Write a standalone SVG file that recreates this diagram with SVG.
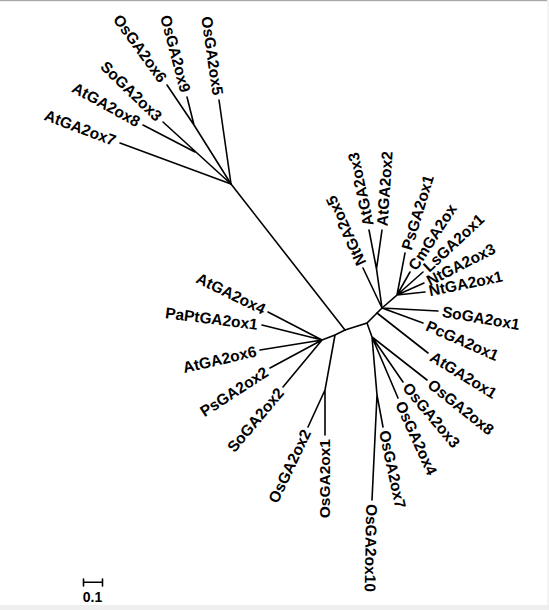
<svg xmlns="http://www.w3.org/2000/svg" width="549" height="610" viewBox="0 0 549 610">
<style>
.b{stroke:#000;stroke-width:1.6;fill:none;stroke-linecap:round}
text{font-family:"Liberation Sans",Arial,sans-serif;font-weight:bold;font-size:15.5px;fill:#000}
.s{text-anchor:start}
.e{text-anchor:end}
</style>
<rect width="549" height="610" fill="#fff"/>
<rect x="0" y="0" width="549" height="1.2" fill="#a8a8a8"/>
<rect x="0" y="605" width="549" height="5" fill="#efefef"/>
<rect x="547" y="0" width="2" height="605" fill="#f3f3f3"/>
<g id="connectors">
<path class="b" d="M345,330 L231,184"/>
<path class="b" d="M231,184 L219,100"/>
<path class="b" d="M231,184 L194,125 M194,125 L187,97 M194,125 L167,85"/>
<path class="b" d="M231,184 L163,122 M195,152 L143,125"/>
<path class="b" d="M231,184 L120,143"/>
<path class="b" d="M345,330 L335,335 L322,340 M322,340 L268,312 M322,340 L262,325 M322,340 L260,350 M322,340 L270,368 M322,340 L283,387"/>
<path class="b" d="M335,335 L325,390 L325,435 M325,390 L308,427"/>
<path class="b" d="M345,330 L367,323 L382,308"/>
<path class="b" d="M382,308 L363,268 M382,308 L376.5,269 L369,230 M376.5,269 L382,230"/>
<path class="b" d="M382,308 L397,295 L405,253 M397,295 L410,272 M397,295 L423,272 M397,295 L424,283 M397,295 L425,292"/>
<path class="b" d="M382,308 L438,311 M382,308 L423,323 M377,313 L428,353"/>
<path class="b" d="M367,323 L372,337 L427,380 M372,337 L403,382 M372,337 L398,398 M372,337 L377,395 L383,427 M377,395 L372,500"/>
<path class="b" d="M83.5,582.3 L102.5,582.3 M83.5,579 L83.5,586 M102.5,579 L102.5,586"/>
</g>
<g id="labels">
<g id="n-OsGA2ox5"><text class="e" dy="0.35em" transform="translate(218,95) rotate(81.8)">OsGA2ox5</text></g>
<g id="n-OsGA2ox9"><text class="e" dy="0.35em" transform="translate(185.8,92) rotate(75)">OsGA2ox9</text></g>
<g id="n-OsGA2ox6"><text class="e" dy="0.35em" transform="translate(163.5,80.5) rotate(54)">OsGA2ox6</text></g>
<g id="n-SoGA2ox3"><text class="e" dy="0.35em" transform="translate(159.6,118.3) rotate(44)">SoGA2ox3</text></g>
<g id="n-AtGA2ox8"><text class="e" dy="0.35em" transform="translate(139,122.7) rotate(29)">AtGA2ox8</text></g>
<g id="n-AtGA2ox7"><text class="e" dy="0.35em" transform="translate(115.3,141) rotate(20.7)">AtGA2ox7</text></g>
<g id="n-NtGA2ox5"><text class="s" dy="0.35em" transform="translate(361.6,264.7) rotate(-114.7)">NtGA2ox5</text></g>
<g id="n-AtGA2ox3"><text class="s" dy="0.35em" transform="translate(368.5,226) rotate(-102)">AtGA2ox3</text></g>
<g id="n-AtGA2ox2"><text class="s" dy="0.35em" transform="translate(382,226) rotate(-86)">AtGA2ox2</text></g>
<g id="n-PsGA2ox1"><text class="s" dy="0.35em" transform="translate(406.2,249.5) rotate(-73)">PsGA2ox1</text></g>
<g id="n-CmGA2ox"><text class="s" dy="0.35em" transform="translate(412,268.5) rotate(-57)">CmGA2ox</text></g>
<g id="n-LsGA2ox1"><text class="s" dy="0.35em" transform="translate(425.5,269) rotate(-43)">LsGA2ox1</text></g>
<g id="n-NtGA2ox3"><text class="s" dy="0.35em" transform="translate(427.5,281.5) rotate(-27)">NtGA2ox3</text></g>
<g id="n-NtGA2ox1"><text class="s" dy="0.35em" transform="translate(429,291) rotate(-11.6)">NtGA2ox1</text></g>
<g id="n-SoGA2ox1"><text class="s" dy="0.35em" transform="translate(442.3,311.4) rotate(9.7)">SoGA2ox1</text></g>
<g id="n-PcGA2ox1"><text class="s" dy="0.35em" transform="translate(427,325) rotate(23.8)">PcGA2ox1</text></g>
<g id="n-AtGA2ox1"><text class="s" dy="0.35em" transform="translate(431.7,355.4) rotate(31.6)">AtGA2ox1</text></g>
<g id="n-OsGA2ox8"><text class="s" dy="0.35em" transform="translate(429.8,382.5) rotate(38.3)">OsGA2ox8</text></g>
<g id="n-OsGA2ox3"><text class="s" dy="0.35em" transform="translate(405.9,384.8) rotate(50)">OsGA2ox3</text></g>
<g id="n-OsGA2ox4"><text class="s" dy="0.35em" transform="translate(400,402) rotate(65.6)">OsGA2ox4</text></g>
<g id="n-OsGA2ox7"><text class="s" dy="0.35em" transform="translate(384.2,430.6) rotate(77.8)">OsGA2ox7</text></g>
<g id="n-OsGA2ox10"><text class="s" dy="0.35em" transform="translate(371.6,504) rotate(91)">OsGA2ox10</text></g>
<g id="n-OsGA2ox1"><text class="e" dy="0.35em" transform="translate(325,439) rotate(-90)">OsGA2ox1</text></g>
<g id="n-OsGA2ox2"><text class="e" dy="0.35em" transform="translate(306.6,430.3) rotate(-64.6)">OsGA2ox2</text></g>
<g id="n-SoGA2ox2"><text class="e" dy="0.35em" transform="translate(280.7,389.8) rotate(-50)">SoGA2ox2</text></g>
<g id="n-PsGA2ox2"><text class="e" dy="0.35em" transform="translate(266.6,370.5) rotate(-33)">PsGA2ox2</text></g>
<g id="n-AtGA2ox6"><text class="e" dy="0.35em" transform="translate(256.1,350.9) rotate(-13)">AtGA2ox6</text></g>
<g id="n-PaPtGA2ox1"><text class="e" dy="0.35em" transform="translate(257.7,324.5) rotate(7.3)">PaPtGA2ox1</text></g>
<g id="n-AtGA2ox4"><text class="e" dy="0.35em" transform="translate(264.7,310) rotate(26)">AtGA2ox4</text></g>
<g id="scale"><text x="92.5" y="601.5" text-anchor="middle" style="font-size:14px">0.1</text></g>
</g>
</svg>
